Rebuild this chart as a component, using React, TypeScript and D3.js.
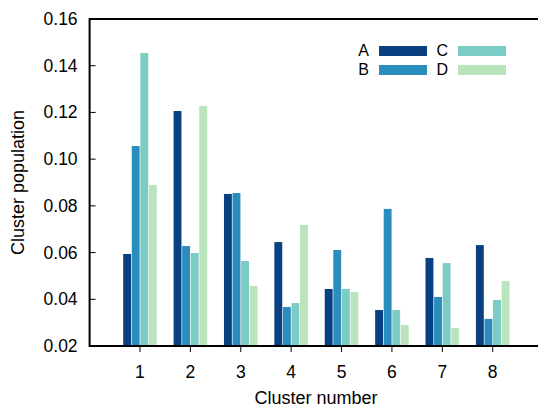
import { useMemo } from "react";
import { scaleLinear, scaleBand } from "d3";

const clusters = [1, 2, 3, 4, 5, 6, 7, 8];
const seriesA = [0.0594, 0.1206, 0.0851, 0.0645, 0.0444, 0.0354, 0.0577, 0.0632];
const seriesB = [0.1056, 0.0628, 0.0855, 0.0367, 0.0611, 0.0787, 0.041, 0.0316];
const seriesC = [0.1454, 0.0598, 0.0564, 0.0384, 0.0444, 0.0354, 0.0555, 0.0397];
const seriesD = [0.0889, 0.1228, 0.0457, 0.0718, 0.0431, 0.029, 0.0277, 0.0478];
const seriesNames = ["A", "B", "C", "D"];
const colors = ["#084081", "#2b8cbe", "#7bccc4", "#bae4bc"];
const yTicks = [0.02, 0.04, 0.06, 0.08, 0.1, 0.12, 0.14, 0.16];

const W = 538;
const H = 407;
const font = "Liberation Sans, Arial, Helvetica, sans-serif";

export default function App() {
  const allSeries = [seriesA, seriesB, seriesC, seriesD];

  // plot box runs past the right edge of the picture (x = 9), like the original
  const x = useMemo(() => scaleLinear().domain([0, 9]).range([89.6, 543.1]), []);
  const y = useMemo(() => scaleLinear().domain([0.02, 0.16]).range([346, 19]), []);
  const sub = useMemo(
    () => scaleBand<string>().domain(seriesNames).range([-16.8, 16.8]).paddingInner(0.08),
    []
  );

  const left = x(0);
  const right = x(9);
  const top = y(0.16);
  const bottom = y(0.02);

  return (
    <svg
      width={W}
      height={H}
      style={{ position: "absolute", left: 0, top: 0, background: "#fff" }}
      fontFamily={font}
    >
      {/* bars */}
      {allSeries.map((vals, si) => (
        <g key={seriesNames[si]} fill={colors[si]}>
          {vals.map((v, i) => (
            <rect
              key={i}
              x={x(clusters[i]) + (sub(seriesNames[si]) as number)}
              y={y(v)}
              width={sub.bandwidth()}
              height={bottom - y(v)}
            />
          ))}
        </g>
      ))}

      {/* y ticks (inward) */}
      {yTicks.map((t) => (
        <g key={t}>
          <line x1={left} x2={left + 6} y1={y(t)} y2={y(t)} stroke="#000" strokeWidth={1} />
          <text x={left - 12} y={y(t) + 6} textAnchor="end" fontSize={17.5} fill="#000">
            {t.toFixed(2)}
          </text>
        </g>
      ))}

      {/* x ticks (outward) */}
      {clusters.map((c) => (
        <g key={c}>
          <line x1={x(c)} x2={x(c)} y1={bottom} y2={bottom + 6} stroke="#000" strokeWidth={1} />
          <text x={x(c)} y={bottom + 32} textAnchor="middle" fontSize={17.5} fill="#000">
            {c}
          </text>
        </g>
      ))}

      {/* frame */}
      <rect
        x={left}
        y={top}
        width={right - left}
        height={bottom - top}
        fill="none"
        stroke="#000"
        strokeWidth={2}
      />

      {/* axis titles */}
      <text x={316} y={404} textAnchor="middle" fontSize={18} fill="#000">
        Cluster number
      </text>
      <text
        transform={`translate(24, ${(top + bottom) / 2}) rotate(-90)`}
        textAnchor="middle"
        fontSize={18}
        fill="#000"
      >
        Cluster population
      </text>

      {/* legend, two columns: A B | C D */}
      {seriesNames.map((name, i) => {
        const tx = i < 2 ? 369 : 448;
        const ty = 56 + (i % 2) * 19;
        return (
          <g key={name}>
            <text x={tx} y={ty} textAnchor="end" fontSize={16} fill="#000">
              {name}
            </text>
            <rect x={tx + 10} y={ty - 10} width={48} height={10} fill={colors[i]} />
          </g>
        );
      })}
    </svg>
  );
}
